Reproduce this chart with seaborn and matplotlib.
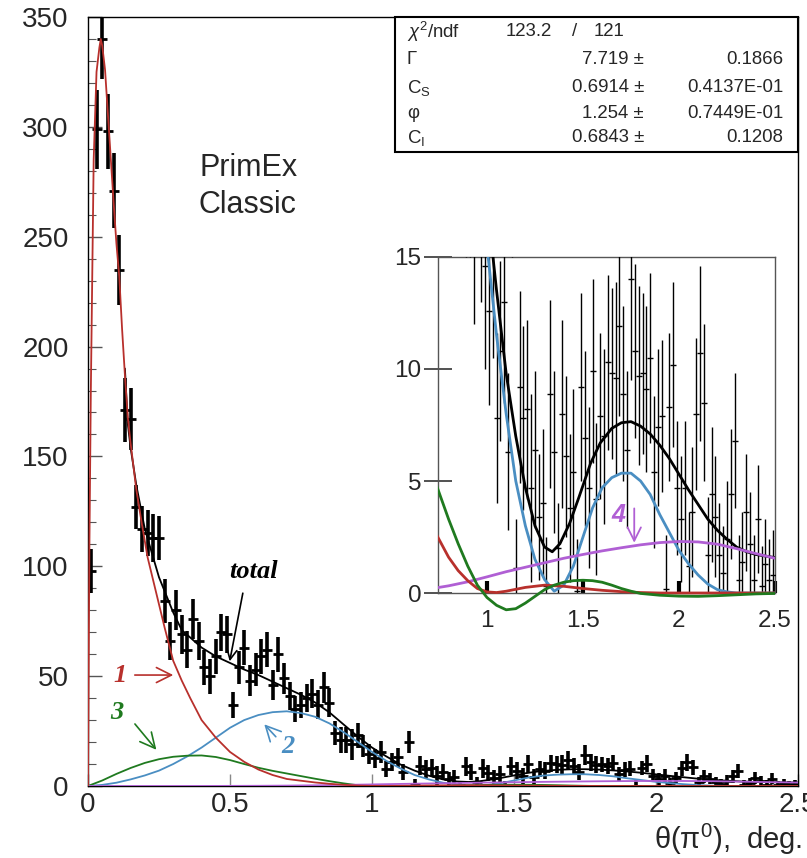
import numpy as np
import matplotlib
matplotlib.use("Agg")
import matplotlib.pyplot as plt
import seaborn as sns
from matplotlib.patches import Rectangle
from matplotlib.ticker import MultipleLocator

sns.set_theme(style="ticks")
plt.rcParams["font.family"] = ["Liberation Sans", "DejaVu Sans"]
plt.rcParams["mathtext.fontset"] = "custom"
plt.rcParams["mathtext.rm"] = "Liberation Sans"
plt.rcParams["mathtext.it"] = "Liberation Sans:italic"
plt.rcParams["mathtext.bf"] = "Liberation Sans:bold"

# ---------------- data: pi0 production angle histogram (bin width 0.02 deg) ----------------
theta = np.round(np.arange(0.01, 2.5, 0.02), 2)

counts = [
    98, 299, 340, 298, 271, 235, 171, 167, 127, 117,
    115, 113, 113, 84, 66, 80, 69, 62, 76, 66,
    54, 50, 59, 70, 69, 37, 54, 63, 48, 53,
    59, 62, 46, 60, 49, 41, 35, 37, 40, 42,
    37, 45, 38, 24, 21, 21, 19, 23, 18, 14.6,
    12.6, 15.5, 7.8, 10.8, 13.0, 6.3, 20.0, 1.1, 9.2, 7.8,
    8.2, 4.7, 6.4, 3.4, 4.0, 0.3, 8.9, 6.3, 2.0, 8.0,
    6.1, 3.8, 5.4, 0.1, 9.2, 6.9, 4.7, 9.9, 4.2, 7.9,
    7.0, 10.3, 9.8, 9.6, 11.9, 8.9, 6.4, 14.0, 10.8, 9.7,
    9.8, 9.1, 10.5, 5.4, 7.4, 7.9, 0.2, 8.3, 10.2, 4.7,
    3.3, 4.7, 1.2, 3.6, 8.0, 10.7, 8.5, 1.7, 4.4, 3.4,
    1.7, 0.9, 2.4, 4.4, 6.8, 0.6, 1.4, 3.6, 2.2, 0.6,
    3.3, 0.3, 1.3, 0.6, 0.8,
]

errors = [
    10, 18, 18, 17, 17, 16, 14.5, 14, 10, 10.5,
    10.5, 11, 10, 10, 8.5, 9, 9, 8.5, 9, 8.5,
    8, 8, 8, 8.5, 8.5, 6, 7.5, 8, 7, 7.5,
    8, 8, 7, 8, 7, 6.5, 6, 6, 6.5, 6.5,
    6.5, 7, 6.5, 5.5, 6, 6, 7, 5.5, 5, 4.6,
    4.2, 5, 3.8, 4, 4.5, 3.5, 5, 2.2, 4.3, 4.1,
    4.0, 4.2, 3.5, 2.8, 3.3, 2.2, 4.2, 3.6, 2.0, 4.2,
    3.6, 3.3, 3.7, 2.3, 4.2, 3.9, 3.6, 4.1, 3.4, 3.7,
    3.9, 3.9, 3.8, 4.3, 4.0, 3.9, 3.5, 4.5, 3.9, 4.0,
    3.6, 3.7, 3.8, 3.4, 3.5, 3.4, 2.4, 3.3, 3.7, 3.0,
    2.8, 3.0, 2.4, 2.9, 3.4, 3.9, 3.5, 2.6, 3.0, 2.7,
    2.3, 2.1, 2.6, 2.9, 3.0, 2.0, 2.2, 2.6, 2.3, 2.0,
    2.4, 1.8, 2.0, 1.8, 2.0,
]

# fit components
red_x = [0.0, 0.005, 0.01, 0.02, 0.03, 0.04, 0.045, 0.05, 0.06, 0.07, 0.08,
         0.09, 0.10, 0.11, 0.12, 0.13, 0.14, 0.15, 0.17, 0.19, 0.21,
         0.24, 0.27, 0.30, 0.33, 0.36, 0.40, 0.45, 0.50, 0.55, 0.60,
         0.65, 0.70, 0.75, 0.80, 0.85, 0.90, 0.95, 1.00, 1.05, 1.10,
         1.20, 1.30, 1.40, 1.50, 1.60, 1.70, 1.80, 1.90, 2.50]
red_y = [0, 110, 180, 285, 325, 336, 340, 337, 326, 306, 286,
         266, 247, 232, 208, 187, 168, 156, 135, 119, 104,
         88, 72, 57, 48, 40, 30, 22, 15.5, 11, 7.5,
         5, 3.2, 2.4, 1.6, 1.0, 0.55, 0.2, 0.05, 0.02, 0.08,
         0.25, 0.35, 0.3, 0.2, 0.12, 0.06, 0.02, 0.0, 0.0]

blue_x = [0.0, 0.05, 0.10, 0.15, 0.20, 0.25, 0.30, 0.35, 0.40, 0.45,
          0.50, 0.55, 0.60, 0.65, 0.70, 0.75, 0.80, 0.85, 0.90, 0.95,
          1.00, 1.05, 1.10, 1.15, 1.20, 1.25, 1.30, 1.35, 1.40, 1.45,
          1.50, 1.55, 1.60, 1.65, 1.70, 1.75, 1.80, 1.85, 1.90, 1.95,
          2.00, 2.05, 2.10, 2.15, 2.20, 2.25, 2.30, 2.50]
blue_y = [0.0, 0.5, 1.5, 3.0, 4.8, 7.0, 10.0, 13.5, 17.5, 22.0,
          26.5, 30.0, 32.3, 33.6, 34.0, 33.2, 31.5, 28.5, 24.5, 20.0,
          15.5, 11.5, 8.0, 5.0, 3.0, 1.5, 0.6, 0.08, 0.35, 1.2,
          2.5, 3.8, 4.7, 5.15, 5.35, 5.35, 5.0, 4.4, 3.5, 2.7,
          1.9, 1.3, 0.8, 0.4, 0.15, 0.05, 0.0, 0.0]

green_x = [0.0, 0.05, 0.10, 0.15, 0.20, 0.25, 0.30, 0.35, 0.40, 0.45,
           0.50, 0.55, 0.60, 0.65, 0.70, 0.75, 0.80, 0.85, 0.90, 0.95,
           1.00, 1.05, 1.10, 1.15, 1.20, 1.25, 1.30, 1.35, 1.40, 1.45,
           1.50, 1.55, 1.60, 1.65, 1.70, 1.75, 1.80, 1.90, 2.00, 2.10,
           2.20, 2.30, 2.40, 2.50]
green_y = [0.0, 2.5, 5.5, 8.2, 10.5, 12.2, 13.3, 13.8, 13.9, 13.2,
           11.8, 10.0, 8.3, 6.9, 5.7, 4.5, 3.3, 2.2, 1.2, 0.35,
           -0.2, -0.55, -0.75, -0.7, -0.45, -0.15, 0.15, 0.35, 0.48, 0.55,
           0.57, 0.55, 0.48, 0.35, 0.2, 0.08, -0.02, -0.1, -0.14, -0.15,
           -0.12, -0.08, -0.04, -0.02]

purple_x = [0.0, 0.2, 0.4, 0.6, 0.7, 0.8, 0.9, 1.0, 1.1, 1.2, 1.3, 1.4,
            1.5, 1.6, 1.7, 1.8, 1.9, 2.0, 2.1, 2.2, 2.3, 2.4, 2.5]
purple_y = [0.0, 0.0, 0.02, 0.1, 0.18, 0.32, 0.5, 0.72, 0.95, 1.15, 1.35, 1.55,
            1.72, 1.88, 2.02, 2.15, 2.25, 2.3, 2.28, 2.18, 1.98, 1.76, 1.55]

total_x = [0.13, 0.14, 0.15, 0.17, 0.20, 0.25, 0.30, 0.33, 0.40, 0.45,
           0.50, 0.55, 0.60, 0.65, 0.70, 0.75, 0.80, 0.85, 0.90, 0.95,
           1.00, 1.05, 1.10, 1.15, 1.20, 1.25, 1.30, 1.34, 1.38, 1.43,
           1.48, 1.54, 1.59, 1.65, 1.70, 1.75, 1.80, 1.85, 1.90, 1.95,
           2.00, 2.05, 2.10, 2.15, 2.20, 2.25, 2.30, 2.35, 2.40, 2.45, 2.50]
total_y = [190, 165, 154, 137, 117, 95, 79, 71, 63, 59,
           56, 53, 50.5, 47.5, 44.5, 41.5, 38, 33.5, 28, 22.5,
           17.5, 13.5, 9.8, 7.0, 4.7, 3.0, 2.05, 1.84, 2.2, 3.1,
           4.3, 5.8, 6.7, 7.35, 7.6, 7.65, 7.45, 7.1, 6.6, 6.0,
           5.3, 4.6, 3.95, 3.3, 2.8, 2.4, 2.05, 1.85, 1.72, 1.65, 1.58]

fit_names = ["$\\chi^2$/ndf", "\u0393", "C$_\\mathrm{S}$", "\u03c6", "C$_\\mathrm{I}$"]
fit_values = ["7.719", "0.6914", "1.254", "0.6843"]
fit_errors = ["0.1866", "0.4137E-01", "0.7449E-01", "0.1208"]
chi2, ndf = "123.2", "121"

RED, BLUE, GREEN, PURPLE = "#b8302c", "#4a8ec2", "#1f7a1f", "#b05fd4"

W, H = 807, 858
def fx(px):
    return px / W
def fy(py):
    return 1 - py / H

fig = plt.figure(figsize=(W / 100, H / 100), dpi=100)
fig.patch.set_facecolor("white")

# ---------------- main panel ----------------
ax = fig.add_axes([fx(88), fy(786), (798 - 88) / W, (786 - 17) / H])
ax.set_facecolor("white")
ax.set_xlim(0, 2.5)
ax.set_ylim(0, 350)

ax.errorbar(theta, counts, yerr=errors, fmt="none", ecolor="black",
            elinewidth=2.6, capsize=0, zorder=3)
ax.plot(theta, counts, ls="none", marker="_", ms=7, mew=2.0, color="black", zorder=4)

for xs, ys, col in [(total_x, total_y, "black"), (blue_x, blue_y, BLUE),
                    (green_x, green_y, GREEN), (purple_x, purple_y, PURPLE),
                    (red_x, red_y, RED)]:
    sns.lineplot(x=xs, y=ys, ax=ax, color=col, linewidth=1.3, sort=False,
                 estimator=None, zorder=5)

ax.yaxis.set_major_locator(MultipleLocator(50))
ax.yaxis.set_minor_locator(MultipleLocator(10))
ax.xaxis.set_major_locator(MultipleLocator(0.5))
ax.xaxis.set_major_formatter(plt.FuncFormatter(lambda v, p: f"{v:g}"))
ax.tick_params(axis="y", which="major", direction="in", length=10, width=1,
               color="#555555", labelsize=20, pad=14, right=False)
ax.tick_params(axis="y", which="minor", direction="in", length=6, width=0.8,
               color="#555555", right=False)
ax.tick_params(axis="x", which="major", direction="in", length=9, width=1,
               color="#888888", labelsize=20, pad=4, top=False)
for sp in ax.spines.values():
    sp.set_color("black")
    sp.set_linewidth(1.0)
ax.set_xlabel("")
ax.set_ylabel("")

# component labels
lab_font = dict(family="Liberation Serif", style="italic", weight="bold", size=19)
ax.text(0.113, 50.5, "1", color=RED, ha="center", va="center", **lab_font)
ax.annotate("", xy=(0.31, 50.5), xytext=(0.155, 50.5),
            arrowprops=dict(arrowstyle="->,head_length=0.9,head_width=0.45", color=RED, lw=1.2))
ax.text(0.102, 33.5, "3", color=GREEN, ha="center", va="center", **lab_font)
ax.annotate("", xy=(0.247, 15.5), xytext=(0.159, 29.2),
            arrowprops=dict(arrowstyle="->,head_length=0.9,head_width=0.45", color=GREEN, lw=1.2))
ax.text(0.705, 18.0, "2", color=BLUE, ha="center", va="center", **lab_font)
ax.annotate("", xy=(0.614, 29.0), xytext=(0.668, 21.5),
            arrowprops=dict(arrowstyle="->,head_length=0.9,head_width=0.45", color=BLUE, lw=1.2))
ax.text(0.582, 97.5, "total", color="black", ha="center", va="center", **lab_font)
ax.annotate("", xy=(0.497, 55.5), xytext=(0.547, 89.0),
            arrowprops=dict(arrowstyle="->,head_length=0.6,head_width=0.3", color="black", lw=1.2))

fig.text(fx(199), fy(168), "PrimEx", fontsize=22, ha="left", va="center")
fig.text(fx(199), fy(205), "Classic", fontsize=22, ha="left", va="center")

fig.text(fx(802), fy(839), "\u03b8(\u03c0$^{0}$),  deg.", fontsize=21, ha="right", va="center")

# ---------------- fit statistics box ----------------
box = Rectangle((fx(395), fy(152)), (798 - 395) / W, (152 - 17) / H, transform=fig.transFigure,
                facecolor="white", edgecolor="black", linewidth=1.5, zorder=10)
fig.patches.append(box)
rows_y = [32, 60, 88, 113, 138]
st = dict(fontsize=13.4, va="center", zorder=11)
fig.text(fx(407), fy(rows_y[0]), fit_names[0], ha="left", **st)
fig.text(fx(552), fy(rows_y[0]), chi2, ha="right", **st)
fig.text(fx(575), fy(rows_y[0]), "/", ha="center", **st)
fig.text(fx(594), fy(rows_y[0]), ndf, ha="left", **st)
for i in range(4):
    yy = fy(rows_y[i + 1])
    fig.text(fx(407), yy, fit_names[i + 1], ha="left", **st)
    fig.text(fx(644), yy, fit_values[i] + " \u00b1", ha="right", **st)
    fig.text(fx(783), yy, fit_errors[i], ha="right", **st)

# ---------------- zoomed inset ----------------
axi = fig.add_axes([fx(438), fy(593), (775 - 438) / W, (593 - 257) / H])
axi.set_facecolor("white")
axi.set_xlim(0.745, 2.5)
axi.set_ylim(0, 15)
axi.errorbar(theta, counts, yerr=errors, fmt="none", ecolor="black",
             elinewidth=1.0, capsize=0, zorder=3)
axi.plot(theta, counts, ls="none", marker="_", ms=4.5, mew=1.0, color="black", zorder=4)

clip = Rectangle((0, -0.12), 1, 1.12, transform=axi.transAxes, facecolor="none", edgecolor="none")
for xs, ys, col in [(total_x, total_y, "black"), (blue_x, blue_y, BLUE),
                    (purple_x, purple_y, PURPLE), (red_x, red_y, RED),
                    (green_x, green_y, GREEN)]:
    sns.lineplot(x=xs, y=ys, ax=axi, color=col, linewidth=2.0, sort=False,
                 estimator=None, zorder=5)
    axi.lines[-1].set_clip_path(clip)

axi.yaxis.set_major_locator(MultipleLocator(5))
axi.xaxis.set_major_locator(MultipleLocator(0.5))
axi.xaxis.set_major_formatter(plt.FuncFormatter(lambda v, p: f"{v:g}"))
axi.tick_params(axis="y", direction="inout", length=20, width=1.2, color="#333333",
                labelsize=17.5, pad=2)
axi.tick_params(axis="x", direction="in", length=9, width=3, color="black",
                labelsize=17.5, pad=12)
for sp in axi.spines.values():
    sp.set_color("#555555")
    sp.set_linewidth(1.0)
axi.set_xlabel("")
axi.set_ylabel("")

axi.text(1.683, 3.5, "4", color=PURPLE, ha="center", va="center",
         family="Liberation Sans", style="italic", weight="bold", size=18)
axi.annotate("", xy=(1.767, 2.12), xytext=(1.767, 3.9),
             arrowprops=dict(arrowstyle="->,head_length=0.8,head_width=0.4", color=PURPLE, lw=1.3))

fig.savefig("out.png", dpi=100, facecolor="white")
